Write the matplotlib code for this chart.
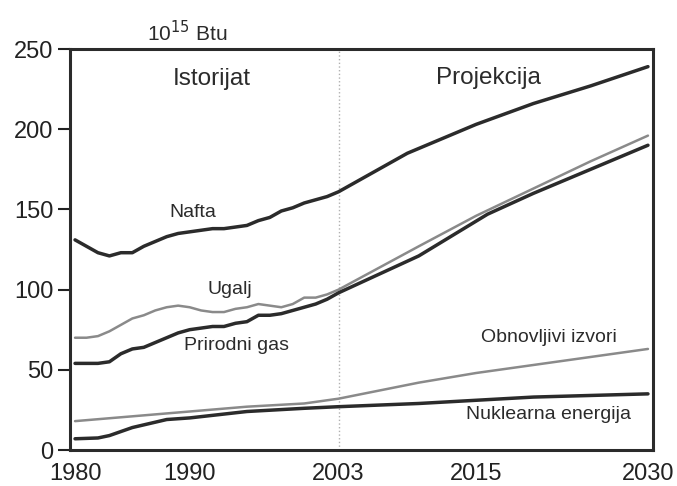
import matplotlib
matplotlib.use("Agg")
import matplotlib.pyplot as plt

plt.rcParams['font.family'] = ['Liberation Sans', 'DejaVu Sans']

# Data (10^15 Btu)
oil_years = [1980, 1981, 1982, 1983, 1984, 1985, 1986, 1987, 1988, 1989, 1990, 1991, 1992, 1993,
             1994, 1995, 1996, 1997, 1998, 1999, 2000, 2001, 2002, 2003, 2009, 2015, 2020, 2025, 2030]
oil = [131, 127, 123, 121, 123, 123, 127, 130, 133, 135, 136, 137, 138, 138,
       139, 140, 143, 145, 149, 151, 154, 156, 158, 161, 185, 203, 216, 227, 239]

coal_years = [1980, 1981, 1982, 1983, 1984, 1985, 1986, 1987, 1988, 1989, 1990, 1991, 1992, 1993,
              1994, 1995, 1996, 1997, 1998, 1999, 2000, 2001, 2002, 2003, 2010, 2015, 2020, 2025, 2030]
coal = [70, 70, 71, 74, 78, 82, 84, 87, 89, 90, 89, 87, 86, 86,
        88, 89, 91, 90, 89, 91, 95, 95, 97, 100, 127, 146, 163, 180, 196]

gas_years = [1980, 1981, 1982, 1983, 1984, 1985, 1986, 1987, 1988, 1989, 1990, 1991, 1992, 1993,
             1994, 1995, 1996, 1997, 1998, 1999, 2000, 2001, 2002, 2003, 2010, 2016, 2020, 2025, 2030]
gas = [54, 54, 54, 55, 60, 63, 64, 67, 70, 73, 75, 76, 77, 77,
       79, 80, 84, 84, 85, 87, 89, 91, 94, 98, 121, 147, 160, 175, 190]

renew_years = [1980, 1985, 1990, 1995, 2000, 2003, 2010, 2015, 2020, 2025, 2030]
renew = [18, 21, 24, 27, 29, 32, 42, 48, 53, 58, 63]

nuclear_years = [1980, 1982, 1983, 1985, 1988, 1990, 1995, 2000, 2003, 2010, 2020, 2030]
nuclear = [7, 7.5, 9, 14, 19, 20, 24, 26, 27, 29, 33, 35]

xticks = [1980, 1990, 2003, 2015, 2030]
yticks = [0, 50, 100, 150, 200, 250]

fig = plt.figure(figsize=(6.77, 4.86), dpi=100)
ax = fig.add_axes([70 / 677, 36 / 486, 583 / 677, 401 / 486])

thick = dict(color='#2b2b2b', lw=2.5, solid_capstyle='round')
thin = dict(color='#8a8a8a', lw=1.8, solid_capstyle='round')

ax.axvline(2003, color='#b0b0b0', lw=1, ls=':')
ax.plot(renew_years, renew, **thin)
ax.plot(nuclear_years, nuclear, **thick)
ax.plot(coal_years, coal, **thin)
ax.plot(gas_years, gas, **thick)
ax.plot(oil_years, oil, **thick)

ax.set_xlim(1979.56, 2030.44)
ax.set_ylim(0, 250)
ax.set_xticks(xticks)
ax.set_yticks(yticks)
ax.tick_params(axis='x', length=0, labelsize=17, pad=9, colors='#222222')
ax.tick_params(axis='y', length=9, width=1.5, labelsize=17, pad=3, colors='#222222')
for s in ax.spines.values():
    s.set_linewidth(2.2)
    s.set_color('#2b2b2b')

txt = dict(color='#2b2b2b')
ax.text(1986.3, 260.5, r'10$^{15}$ Btu', fontsize=15, ha='left', va='center',
        clip_on=False, **txt)
ax.text(1991.9, 231, 'Istorijat', fontsize=17.5, ha='center', va='center', **txt)
ax.text(2016.1, 232, 'Projekcija', fontsize=17.5, ha='center', va='center', **txt)
ax.text(1990.3, 148, 'Nafta', fontsize=14, ha='center', va='center', **txt)
ax.text(1993.5, 100, 'Ugalj', fontsize=14, ha='center', va='center', **txt)
ax.text(1994.1, 65, 'Prirodni gas', fontsize=14, ha='center', va='center', **txt)
ax.text(2021.4, 70, 'Obnovljivi izvori', fontsize=14, ha='center', va='center', **txt)
ax.text(2021.3, 22, 'Nuklearna energija', fontsize=14, ha='center', va='center', **txt)

fig.savefig('out.png', dpi=100)
